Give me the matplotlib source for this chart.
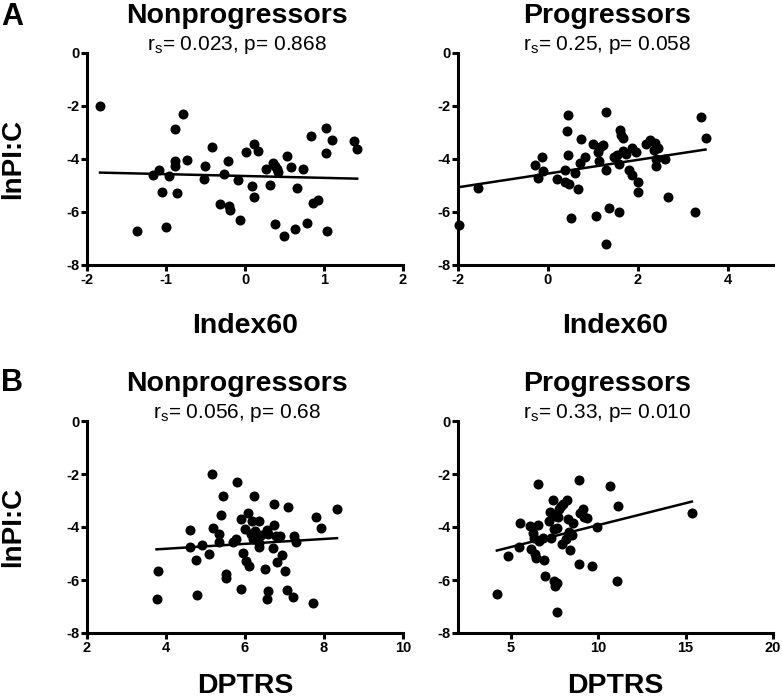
import numpy as np
import matplotlib
matplotlib.use("Agg")
import matplotlib.pyplot as plt

plt.rcParams['font.family'] = ['Liberation Sans', 'DejaVu Sans']
plt.rcParams['mathtext.fontset'] = 'custom'
plt.rcParams['mathtext.rm'] = 'Liberation Sans'
plt.rcParams['axes.unicode_minus'] = False

# A, Nonprogressors: Index60 vs lnPI:C
a_non_x = [-1.835, -1.37, -1.16, -1.09, -1.05, -1.00, -0.96, -0.89, -0.89, -0.88,
           -0.86, -0.79, -0.73, -0.51, -0.52, -0.42, -0.32, -0.26, -0.22, -0.20,
           -0.19, -0.09, -0.06, 0.01, 0.11, 0.16, 0.09, 0.12, 0.26, 0.32,
           0.35, 0.38, 0.40, 0.42, 0.38, 0.49, 0.53, 0.58, 0.63, 0.66,
           0.74, 0.78, 0.84, 0.865, 0.92, 1.03, 1.02, 1.04, 1.10, 1.38, 1.42]
a_non_y = [-1.99, -6.70, -4.62, -4.43, -5.25, -6.55, -4.66, -2.86, -4.09, -4.26,
           -5.29, -2.32, -4.04, -4.28, -4.75, -3.54, -5.68, -4.57, -4.07, -5.77,
           -5.94, -4.79, -6.31, -3.75, -3.44, -3.70, -5.01, -5.44, -4.37, -5.00,
           -4.16, -4.28, -4.38, -4.50, -6.45, -6.90, -3.90, -4.32, -6.66, -5.08,
           -4.37, -6.42, -3.15, -5.67, -5.55, -2.82, -3.78, -6.71, -3.27, -3.31, -3.63]

# A, Progressors
a_pro_x = [-1.97, -1.56, -0.28, -0.22, -0.13, -0.11, 0.19, 0.37, 0.42, 0.45,
           0.45, 0.38, 0.47, 0.50, 0.59, 0.67, 0.70, 0.74, 0.83, 1.01,
           1.07, 1.11, 1.13, 1.16, 1.22, 1.28, 1.28, 1.28, 1.35, 1.46,
           1.54, 1.57, 1.57, 1.61, 1.62, 1.66, 1.66, 1.74, 1.80, 1.87,
           1.86, 1.96, 2.00, 1.99, 2.17, 2.26, 2.38, 2.35, 2.45, 2.41,
           2.41, 2.60, 2.67, 3.27, 3.39, 3.50]
a_pro_y = [-6.49, -5.08, -4.22, -4.71, -3.92, -4.46, -4.75, -4.41, -2.95, -2.35,
           -3.84, -4.85, -4.96, -6.24, -4.52, -5.13, -4.16, -3.23, -3.92, -3.43,
           -6.14, -3.73, -4.09, -3.56, -3.48, -2.22, -4.42, -7.19, -5.84, -3.94,
           -3.84, -4.19, -5.99, -2.91, -3.10, -3.20, -3.71, -3.81, -4.43, -4.59,
           -3.58, -3.72, -4.86, -5.24, -3.43, -3.30, -3.38, -3.67, -3.58, -4.01,
           -4.27, -3.99, -5.44, -5.99, -2.42, -3.20]

# B, Nonprogressors: DPTRS vs lnPI:C
b_non_x = [3.76, 3.80, 4.60, 4.61, 4.76, 4.79, 4.90, 5.09, 5.17, 5.19,
           5.34, 5.38, 5.44, 5.35, 5.51, 5.53, 5.70, 5.76, 5.79, 5.90,
           5.91, 5.94, 6.01, 6.02, 6.07, 6.09, 6.14, 6.18, 6.21, 6.24,
           6.26, 6.31, 6.36, 6.35, 6.36, 6.40, 6.51, 6.55, 6.57, 6.57,
           6.55, 6.73, 6.73, 6.72, 6.79, 6.82, 6.88, 6.93, 7.02, 7.06,
           7.08, 7.24, 7.21, 7.29, 7.72, 7.79, 7.92, 8.33]
b_non_y = [-6.70, -5.67, -4.10, -4.74, -5.23, -6.55, -4.67, -5.02, -2.00, -4.03,
           -4.26, -3.55, -2.83, -4.58, -5.94, -5.76, -4.57, -4.44, -2.31, -6.33,
           -3.71, -4.98, -4.06, -5.30, -3.47, -5.46, -4.28, -3.76, -4.47, -2.82,
           -4.16, -4.35, -3.76, -4.75, -4.59, -4.30, -5.57, -4.10, -4.26, -6.42,
           -6.70, -3.12, -3.91, -4.78, -4.34, -5.33, -4.35, -5.04, -5.66, -6.39,
           -3.26, -4.34, -6.64, -4.57, -6.88, -3.62, -4.05, -3.31]

# B, Progressors
b_pro_x = [4.22, 4.83, 5.48, 5.53, 6.09, 6.15, 6.26, 6.32, 6.41, 6.47,
           6.56, 6.58, 6.64, 6.83, 6.89, 6.97, 7.18, 7.25, 7.31, 7.40,
           7.48, 7.48, 7.52, 7.56, 7.65, 7.67, 7.69, 7.79, 7.86, 7.92,
           7.99, 8.23, 8.17, 8.26, 8.32, 8.40, 8.49, 8.55, 7.63, 8.91,
           8.95, 8.93, 9.12, 9.18, 9.37, 9.66, 9.96, 10.69, 11.13, 11.11, 15.36]
b_pro_y = [-6.51, -5.09, -4.74, -3.86, -3.98, -4.83, -4.21, -4.40, -5.01, -5.17,
           -3.93, -2.38, -4.53, -4.40, -5.23, -5.85, -3.78, -3.43, -4.41, -2.98,
           -4.08, -6.03, -3.59, -6.21, -6.13, -4.02, -3.64, -3.32, -3.20, -4.65,
           -3.14, -2.98, -4.44, -3.70, -4.17, -4.88, -4.30, -3.84, -7.19, -2.23,
           -3.49, -5.41, -3.32, -3.64, -3.67, -5.47, -4.01, -2.44, -3.22, -6.02, -3.46]

titles = ["Nonprogressors", "Progressors", "Nonprogressors", "Progressors"]
stats = [r"$\mathrm{r_s}$= 0.023, p= 0.868", r"$\mathrm{r_s}$= 0.25, p= 0.058",
         r"$\mathrm{r_s}$= 0.056, p= 0.68", r"$\mathrm{r_s}$= 0.33, p= 0.010"]
xlabels = ["Index60", "Index60", "DPTRS", "DPTRS"]
xlims = [(-2, 2), (-2, 5), (2, 10), (2, 20)]
xticks = [[-2, -1, 0, 1, 2], [-2, 0, 2, 4], [2, 4, 6, 8, 10], [5, 10, 15, 20]]
yticks = [0, -2, -4, -6, -8]

data = [(a_non_x, a_non_y), (a_pro_x, a_pro_y), (b_non_x, b_non_y), (b_pro_x, b_pro_y)]

W, H = 782, 697
fig = plt.figure(figsize=(W / 100, H / 100), dpi=100)

# axes boxes in pixels: left, right, top, bottom
boxes = [(87, 403, 53, 265), (458, 773, 53, 265), (87, 403, 421, 633), (458, 773, 421, 633)]
label_gap = [48, 48, 40, 40]

for i, (l, r, t, b) in enumerate(boxes):
    ax = fig.add_axes([l / W, 1 - b / H, (r - l) / W, (b - t) / H])
    x = np.array(data[i][0])
    y = np.array(data[i][1])
    ax.plot(x, y, 'o', color='black', markersize=6.2, clip_on=False)
    k, c = np.polyfit(x, y, 1)
    xx = np.array([x.min(), x.max()])
    ax.plot(xx, k * xx + c, color='black', lw=1.8)
    ax.set_xlim(*xlims[i])
    ax.set_ylim(-8, 0)
    ax.set_xticks(xticks[i])
    ax.set_yticks(yticks)
    for s in ['top', 'right']:
        ax.spines[s].set_visible(False)
    for s in ['left', 'bottom']:
        ax.spines[s].set_linewidth(2.2)
    ax.tick_params(width=2.2, length=4, pad=1.5, labelsize=10.5)
    for lab in ax.get_xticklabels() + ax.get_yticklabels():
        lab.set_fontweight('bold')
    cx = (l + r) / 2 - 8
    fig.text(cx / W, 1 - (t - 30) / H, titles[i], ha='center', va='baseline',
             fontsize=20.5, fontweight='bold')
    fig.text(cx / W, 1 - (t - 3.5) / H, stats[i], ha='center', va='baseline',
             fontsize=15)
    fig.text(((l + r) / 2) / W, 1 - (b + label_gap[i]) / H, xlabels[i], ha='center',
             va='top', fontsize=20.5, fontweight='bold')

fig.text(13 / W, 1 - 159 / H, "lnPI:C", rotation=90, ha='center', va='center',
         fontsize=20, fontweight='bold')
fig.text(13 / W, 1 - 527 / H, "lnPI:C", rotation=90, ha='center', va='center',
         fontsize=20, fontweight='bold')
fig.text(1 / W, 1 - 2 / H, "A", ha='left', va='top', fontsize=22, fontweight='bold')
fig.text(1 / W, 1 - 368 / H, "B", ha='left', va='top', fontsize=22, fontweight='bold')

fig.savefig("out.png", dpi=100)
